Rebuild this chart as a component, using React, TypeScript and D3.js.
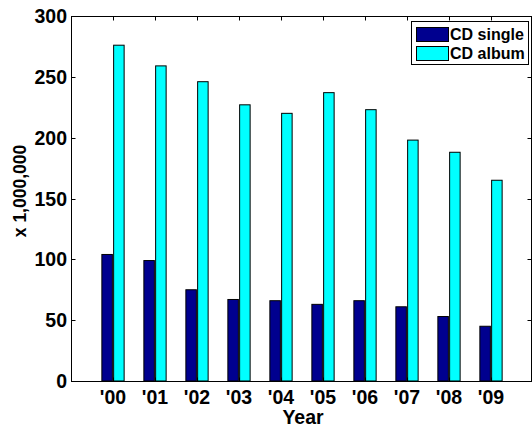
import React from 'react';
import * as d3 from 'd3';

const years = ["'00", "'01", "'02", "'03", "'04", "'05", "'06", "'07", "'08", "'09"];
const cdSingle = [104, 99, 75, 67, 66, 63, 66, 61, 53, 45];
const cdAlbum = [276, 259, 246, 227, 220, 237, 223, 198, 188, 165];
const yTicks = [0, 50, 100, 150, 200, 250, 300];
const seriesNames = ['CD single', 'CD album'];
const seriesColors = ['#00008F', '#00FFFF'];

const W = 532;
const H = 427;
const left = 71;
const top = 16;
const bottom = 381;
const right = 531;
const font = 'Liberation Sans, Arial, Helvetica, sans-serif';

export default function App() {
  const x = d3.scaleLinear().domain([0, 11]).range([left, 533]);
  const y = d3.scaleLinear().domain([0, 300]).range([bottom, top]);
  const bw = x(0.25) - x(0);
  const off = [-0.14, 0.14];
  const series = [cdSingle, cdAlbum];
  const tl = 4.5;

  return (
    <svg width={W} height={H} style={{ position: 'absolute', left: 0, top: 0, background: '#fff' }}>
      <rect x={0} y={0} width={W} height={H} fill="#fff" />
      {series.map((vals, s) =>
        vals.map((v, i) => {
          const cx = x(i + 1 + off[s]);
          return (
            <rect
              key={`${s}-${i}`}
              x={cx - bw / 2}
              y={y(v)}
              width={bw}
              height={y(0) - y(v)}
              fill={seriesColors[s]}
              stroke="#000"
              strokeWidth={1}
            />
          );
        })
      )}
      {/* frame */}
      <g stroke="#000" strokeWidth={1} fill="none">
        <line x1={left + 0.5} y1={top} x2={left + 0.5} y2={bottom + 0.5} />
        <line x1={left} y1={bottom + 0.5} x2={W} y2={bottom + 0.5} />
        <line x1={left} y1={top + 0.5} x2={W} y2={top + 0.5} />
        <line x1={right + 0.5} y1={top} x2={right + 0.5} y2={bottom + 0.5} />
        {yTicks.map((t) => (
          <g key={`yt${t}`}>
            <line x1={left} y1={Math.round(y(t)) + 0.5} x2={left + tl} y2={Math.round(y(t)) + 0.5} />
            <line x1={right - tl + 1} y1={Math.round(y(t)) + 0.5} x2={right + 1} y2={Math.round(y(t)) + 0.5} />
          </g>
        ))}
        {years.map((yr, i) => (
          <g key={`xt${yr}`}>
            <line x1={Math.round(x(i + 1)) + 0.5} y1={top} x2={Math.round(x(i + 1)) + 0.5} y2={top + tl} />
            <line x1={Math.round(x(i + 1)) + 0.5} y1={bottom + 1} x2={Math.round(x(i + 1)) + 0.5} y2={bottom + 1 - tl} />
          </g>
        ))}
      </g>
      {/* y tick labels */}
      {yTicks.map((t) => (
        <text
          key={`yl${t}`}
          x={left - 4}
          y={y(t) + 7}
          textAnchor="end"
          fontFamily={font}
          fontWeight="bold"
          fontSize={19.5}
          fill="#000"
        >
          {t}
        </text>
      ))}
      {/* x tick labels */}
      {years.map((yr, i) => (
        <text
          key={`xl${yr}`}
          x={x(i + 1)}
          y={403.5}
          textAnchor="middle"
          fontFamily={font}
          fontWeight="bold"
          fontSize={19.5}
          fill="#000"
        >
          {yr}
        </text>
      ))}
      <text x={303} y={424} textAnchor="middle" fontFamily={font} fontWeight="bold" fontSize={19.5} fill="#000">
        Year
      </text>
      <text
        transform={`translate(25.5, 191) rotate(-90)`}
        textAnchor="middle"
        fontFamily={font}
        fontWeight="bold"
        fontSize={17.5}
        fill="#000"
      >
        x 1,000,000
      </text>
      {/* legend */}
      <g>
        <rect x={411.5} y={21.5} width={117} height={43} fill="#fff" stroke="#000" strokeWidth={1} />
        {seriesNames.map((n, i) => (
          <g key={n}>
            <rect x={416.5} y={27.5 + i * 19} width={32} height={14} fill={seriesColors[i]} stroke="#000" strokeWidth={1} />
            <text
              x={450}
              y={40 + i * 19}
              fontFamily={font}
              fontWeight="bold"
              fontSize={16}
              fill="#000"
            >
              {n}
            </text>
          </g>
        ))}
      </g>
    </svg>
  );
}
